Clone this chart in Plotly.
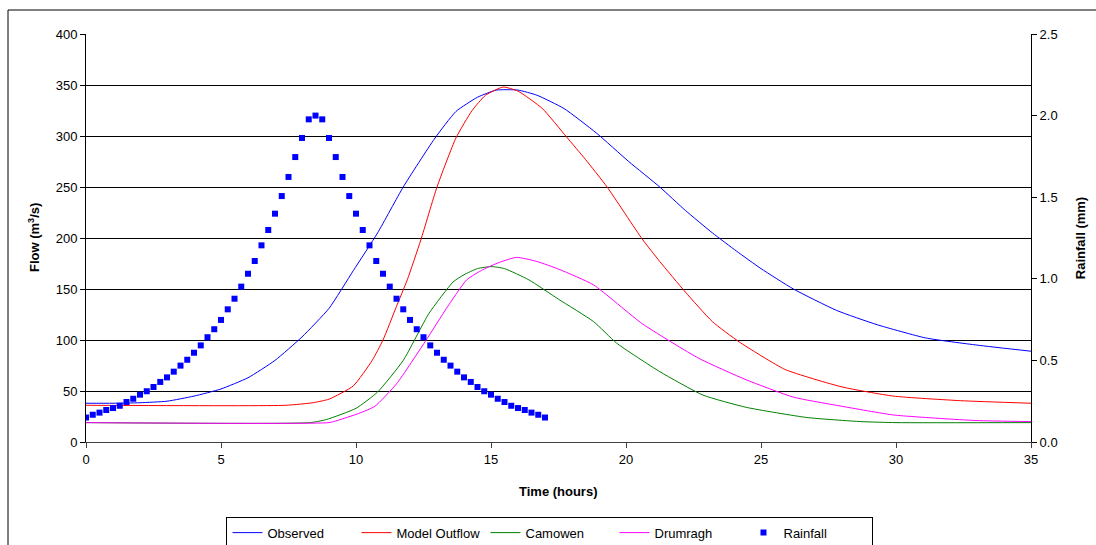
import plotly.graph_objects as go

# ---- data ----
obs_t = [0, 1, 2, 3, 4, 5, 6, 7, 8, 9, 9.9, 10.8, 11.75, 12.9, 13.7, 14.5, 15.2, 16.0, 16.7,
         17.7, 18.9, 20.1, 21.25, 22.2, 23.2, 24.1, 25.0, 26.2, 27.8, 29.3, 31.1, 33.0, 35]
obs_q = [38, 38, 38.5, 40, 45, 52, 63, 80, 103, 131, 168, 205, 250, 297, 324, 338, 345, 345, 340,
         327, 303, 275, 250, 227, 205, 187, 170, 150, 129, 115, 102, 95, 89]

mod_t = [0, 7.4, 8.4, 9.0, 9.9, 10.6, 11.0, 11.5, 11.9, 12.4, 13.0, 13.7, 14.3, 14.8, 15.45, 16.0,
         16.9, 17.8, 18.5, 19.3, 20.6, 21.25, 22.2, 23.2, 24.2, 25.9, 28.0, 29.9, 32.4, 35]
mod_q = [36, 36, 38.5, 42, 55, 80, 100, 133, 159, 198, 250, 298, 325, 340, 348, 344,
         327, 299, 277, 250, 199, 177, 147, 118, 98, 71, 54, 45, 40.5, 38]

cam_t = [0, 8.3, 8.9, 10.0, 10.8, 11.75, 12.7, 13.6, 14.0, 14.5, 15.0, 15.5, 16.4, 17.5, 18.8,
         19.65, 21.25, 22.85, 24.45, 26.7, 28.7, 30, 35]
cam_q = [19, 19, 22, 33, 49, 80, 126, 157, 164, 170, 172, 170, 159, 140, 118,
         97, 69, 46, 34, 24, 20, 19, 19]

dru_t = [0, 9.0, 9.3, 10.1, 10.7, 11.5, 12.6, 13.35, 14.1, 14.7, 15.3, 15.95, 16.7, 17.55, 18.8,
         20.6, 22.7, 24.45, 26.2, 28.0, 29.9, 31.7, 33.0, 35]
dru_q = [19, 19, 21, 28, 35, 57, 100, 131, 159, 169, 176, 181, 177, 169, 154,
         116, 82, 61, 44, 35, 26.5, 23, 21, 20]

rain_t = [i * 0.25 for i in range(69)]
rain_mm = [0.150, 0.167, 0.180, 0.196, 0.208, 0.222, 0.245, 0.265, 0.290, 0.311, 0.337, 0.368,
           0.396, 0.431, 0.468, 0.504, 0.547, 0.592, 0.642, 0.691, 0.748, 0.813, 0.878, 0.952,
           1.031, 1.109, 1.205, 1.299, 1.399, 1.507, 1.624, 1.746, 1.863, 1.977, 2.000,
           1.977, 1.863, 1.746, 1.624, 1.507, 1.399, 1.299, 1.205, 1.109, 1.031,
           0.952, 0.878, 0.813, 0.748, 0.691, 0.642, 0.592, 0.547, 0.504, 0.468, 0.431,
           0.396, 0.368, 0.337, 0.311, 0.290, 0.265, 0.245, 0.222, 0.208, 0.196, 0.180,
           0.167, 0.150]

x_ticks = [0, 5, 10, 15, 20, 25, 30, 35]
y_ticks = [0, 50, 100, 150, 200, 250, 300, 350, 400]
y2_ticks = [0, 0.5, 1.0, 1.5, 2.0, 2.5]

FONT = "Liberation Sans, Arial, sans-serif"
SMOOTH = 0.5

fig = go.Figure()
fig.add_trace(go.Scatter(x=obs_t, y=obs_q, mode="lines", name="Observed",
                         line=dict(color="#0000FF", width=1, shape="spline", smoothing=SMOOTH)))
fig.add_trace(go.Scatter(x=mod_t, y=mod_q, mode="lines", name="Model Outflow",
                         line=dict(color="#FF0000", width=1, shape="spline", smoothing=SMOOTH)))
fig.add_trace(go.Scatter(x=cam_t, y=cam_q, mode="lines", name="Camowen",
                         line=dict(color="#008000", width=1, shape="spline", smoothing=SMOOTH)))
fig.add_trace(go.Scatter(x=dru_t, y=dru_q, mode="lines", name="Drumragh",
                         line=dict(color="#FF00FF", width=1, shape="spline", smoothing=SMOOTH)))
fig.add_trace(go.Scatter(x=rain_t, y=rain_mm, mode="markers", name="Rainfall", yaxis="y2",
                         marker=dict(symbol="square", size=6, color="#0000FF",
                                     line=dict(width=0))))

fig.update_layout(
    width=1096, height=545,
    margin=dict(l=86, r=65, t=34, b=103, autoexpand=False),
    paper_bgcolor="white", plot_bgcolor="white",
    font=dict(family=FONT, size=13, color="black"),
    showlegend=True,
    legend=dict(orientation="h", x=0.491, xanchor="center", y=-0.183, yanchor="top",
                bordercolor="black", borderwidth=1, font=dict(size=13),
                entrywidth=84, entrywidthmode="pixels", itemwidth=30,
                traceorder="normal", tracegroupgap=0),
    xaxis=dict(range=[0, 35], tickvals=x_ticks, showgrid=False, zeroline=False,
               showline=True, linecolor="#404040", linewidth=1,
               ticks="outside", ticklen=5, tickcolor="#404040",
               tickfont=dict(size=13)),
    yaxis=dict(range=[0, 400], tickvals=y_ticks, showgrid=True, gridcolor="black",
               gridwidth=1, zeroline=False, showline=True, linecolor="black",
               linewidth=1, ticks="outside", ticklen=5, tickcolor="black",
               tickfont=dict(size=13)),
    yaxis2=dict(range=[0, 2.5], tickvals=y2_ticks, tickformat=".1f", overlaying="y",
                side="right", showgrid=False, zeroline=False, showline=True,
                linecolor="black", linewidth=1, ticks="outside", ticklen=5,
                tickcolor="black", tickfont=dict(size=13)),
    annotations=[
        dict(text="<b>Time (hours)</b>", xref="paper", yref="paper", x=0.5, y=-0.122,
             xanchor="center", yanchor="middle", showarrow=False, font=dict(size=13)),
        dict(text="<b>Flow (m<sup>3</sup>/s)</b>", xref="paper", yref="paper",
             x=-0.055, y=0.5, xanchor="center", yanchor="middle", textangle=-90,
             showarrow=False, font=dict(size=13)),
        dict(text="<b>Rainfall (mm)</b>", xref="paper", yref="paper",
             x=1.052, y=0.5, xanchor="center", yanchor="middle", textangle=-90,
             showarrow=False, font=dict(size=13)),
    ],
    shapes=[
        dict(type="rect", xref="paper", yref="paper",
             x0=(8 - 86) / 945, x1=(1110 - 86) / 945,
             y0=(442 - 560) / 408, y1=(442 - 10) / 408,
             line=dict(color="black", width=1), fillcolor="rgba(0,0,0,0)", layer="below"),
    ],
)

fig.write_html("out.html", config={"displayModeBar": False},
               post_script="document.body.style.margin='0';document.body.style.overflow='hidden';")
